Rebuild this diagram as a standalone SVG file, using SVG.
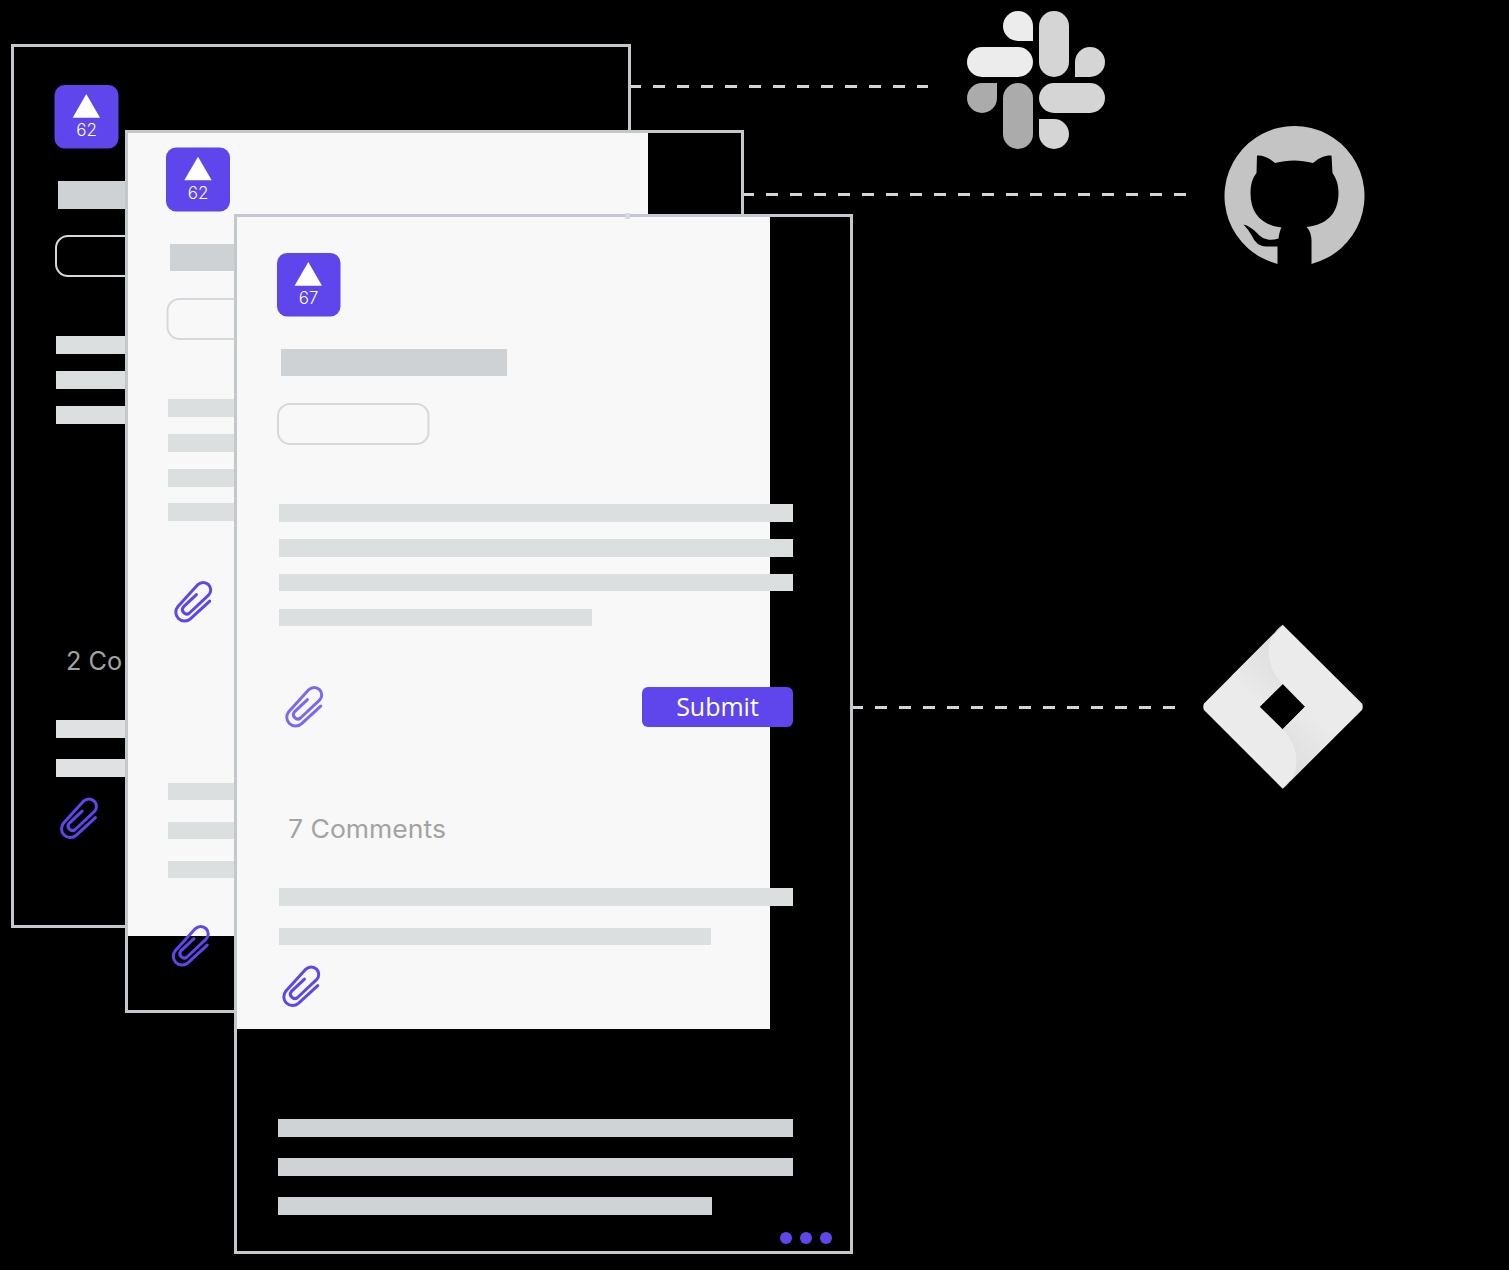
<svg xmlns="http://www.w3.org/2000/svg" xmlns:xlink="http://www.w3.org/1999/xlink" width="1509" height="1270" viewBox="0 0 1509 1270">
<style>
.frame{fill:none;stroke:#c3c8ca;stroke-width:3}
.paper{fill:#f8f8f8}
.badge{fill:#5f45ec}
.tri{fill:#fff}
.num{font-family:"Inter","Liberation Sans",sans-serif;font-size:17px;font-weight:300;fill:#fff;text-anchor:middle}
.title{fill:#cfd2d4}
.pill{fill:none;stroke:#d6d9db;stroke-width:2}
.line{fill:#dcdfe0}
.line2{fill:#e0e1e3}
.low{fill:#cfd3d5}
.cmt{font-family:"Inter","Liberation Sans",sans-serif;font-size:25px;fill:#a3a3a3}
.dash{fill:none;stroke:#d2d5d8;stroke-width:3;stroke-dasharray:12 12}
.clipw{fill:none;stroke:#5f45ec;stroke-width:3.200;stroke-linecap:round}
.dot{fill:#5f45ec}
</style>
<defs>
<path id="clip" d="M18 -1L-2.8 18.2A9.5 9.5 0 0 1 -16.2 4.8L5.3 -18.7A8 8 0 0 1 16.7 -7.3L-3.7 11.8A4.7 4.7 0 0 1 -10.3 5.2L3.7 -8"/>
<linearGradient id="shadeA" gradientUnits="userSpaceOnUse" x1="1275" y1="652" x2="1238" y2="689"><stop offset="0" stop-color="#dfdfdf"/><stop offset="1" stop-color="#ebebeb"/></linearGradient>
<linearGradient id="shadeB" gradientUnits="userSpaceOnUse" x1="1290" y1="761" x2="1327" y2="724"><stop offset="0" stop-color="#dfdfdf"/><stop offset="1" stop-color="#ebebeb"/></linearGradient>
</defs>
<rect width="1509" height="1270" fill="#000"/>

<g id="connectors">
<path class="dash" d="M629 86.500H928"/>
<path class="dash" d="M742 194.500H1187"/>
<path class="dash" d="M851 707.500H1175"/>
</g>

<g id="card-back">
<rect class="frame" x="12.500" y="45.500" width="617" height="881"/>
<rect class="badge" x="54.500" y="85" width="64" height="63.500" rx="10"/>
<path class="tri" d="M86.300 94L100 117.700H72.700Z"/>
<text class="num" x="86.500" y="135.500">62</text>
<rect class="title" x="58" y="181" width="70" height="28"/>
<rect class="pill" x="56" y="236" width="100" height="40" rx="12"/>
<rect class="line" x="56" y="336" width="72" height="18"/>
<rect class="line" x="56" y="371" width="72" height="18"/>
<rect class="line" x="56" y="406" width="72" height="18"/>
<text class="cmt" x="66" y="670" textLength="56" lengthAdjust="spacingAndGlyphs">2 Co</text>
<rect class="line2" x="56" y="720" width="72" height="18"/>
<rect class="line2" x="56" y="759" width="72" height="18"/>
<use href="#clip" class="clipw" transform="translate(78.700 818.500) scale(.93)"/>
</g>

<g id="card-middle">
<rect class="paper" x="127" y="132" width="521" height="804"/>
<rect class="frame" x="126.500" y="131.500" width="616" height="880"/>
<rect class="badge" x="166" y="147.500" width="64" height="64" rx="10"/>
<path class="tri" d="M198 156.700L211.700 180.300H184.300Z"/>
<text class="num" x="198" y="198.500">62</text>
<rect class="title" x="170" y="244" width="70" height="27"/>
<rect class="pill" x="167.500" y="299" width="100" height="40" rx="12"/>
<rect class="line" x="168" y="399" width="72" height="18"/>
<rect class="line" x="168" y="434" width="72" height="18"/>
<rect class="line" x="168" y="469" width="72" height="18"/>
<rect class="line" x="168" y="503" width="72" height="18"/>
<use href="#clip" class="clipw" transform="translate(193 602) scale(.93)"/>
<rect class="line" x="168" y="783" width="72" height="17"/>
<rect class="line" x="168" y="822" width="72" height="17"/>
<rect class="line" x="168" y="861" width="72" height="17"/>
<use href="#clip" class="clipw" transform="translate(190.500 946) scale(.93)"/>
</g>

<g id="card-front">
<rect class="paper" x="237" y="217" width="533" height="812"/>
<rect class="frame" x="235.500" y="215.500" width="616" height="1037"/>
<rect x="625" y="213" width="5" height="6" fill="#d8dbdb"/>
<rect class="badge" x="277" y="253" width="63.500" height="63.500" rx="10"/>
<path class="tri" d="M308.300 262L322 285.700H294.600Z"/>
<text class="num" x="308.500" y="303.500">67</text>
<rect class="title" x="281" y="349" width="226" height="27"/>
<rect class="pill" x="278" y="404" width="150.500" height="40" rx="12"/>
<rect class="line" x="279" y="504" width="514" height="18"/>
<rect class="line" x="279" y="539" width="514" height="18"/>
<rect class="line" x="279" y="574" width="514" height="17"/>
<rect class="line" x="279" y="609" width="313" height="17"/>
<use href="#clip" transform="translate(304 707) scale(.93)" style="fill:none;stroke:#7c68ee;stroke-width:3.200;stroke-linecap:round"/>
<g id="submit">
<rect class="badge" x="642" y="687" width="151" height="40" rx="6"/>
<text x="717.500" y="716" text-anchor="middle" style="font-family:'Open Sans','Liberation Sans',sans-serif;font-size:25px;fill:#fff">Submit</text>
</g>
<text class="cmt" x="288" y="838" textLength="158" lengthAdjust="spacingAndGlyphs">7 Comments</text>
<rect class="line" x="279" y="888" width="514" height="18"/>
<rect class="line" x="279" y="928" width="432" height="17"/>
<use href="#clip" class="clipw" transform="translate(301 986.500) scale(.93)"/>
<rect class="low" x="278" y="1119" width="515" height="18"/>
<rect class="low" x="278" y="1158" width="515" height="18"/>
<rect class="low" x="278" y="1197" width="434" height="18"/>
<circle class="dot" cx="786" cy="1238" r="6"/>
<circle class="dot" cx="806" cy="1238" r="6"/>
<circle class="dot" cx="826" cy="1238" r="6"/>
</g>

<g id="slack">
<path fill="#ececec" d="M1018 11a15 15 0 0 0 0 30h15V26a15 15 0 0 0-15-15Z"/>
<rect fill="#ececec" x="967" y="47" width="66" height="30" rx="15"/>
<rect fill="#d5d5d5" x="1039" y="11" width="30" height="66" rx="15"/>
<path fill="#d5d5d5" d="M1105 62a15 15 0 0 0-30 0v15h15a15 15 0 0 0 15-15Z"/>
<rect fill="#d5d5d5" x="1039" y="83" width="66" height="30" rx="15"/>
<path fill="#d5d5d5" d="M1054 149a15 15 0 0 0 0-30h-15v15a15 15 0 0 0 15 15Z"/>
<rect fill="#ababab" x="1003" y="83" width="30" height="66" rx="15"/>
<path fill="#ababab" d="M967 98a15 15 0 0 0 30 0V83h-15a15 15 0 0 0-15 15Z"/>
</g>

<g id="github">
<path fill="#c4c4c4" d="M1277.500 263.900A70 70 0 1 1 1311.500 263.900L1311.500 241Q1311.500 232 1306.500 227C1326 225 1338.500 214 1338.500 193C1338.500 184 1336 178 1332.500 173L1331.500 155.500C1326 155 1320 157 1313 163C1300 159.500 1288 159.500 1275 163C1268 157 1262 155 1257 155.500L1256.500 173C1252.500 178 1250.500 184 1250.500 193C1250.500 214 1262 225 1281.500 227.500Q1279.500 231 1278.500 238.500C1270 241 1263 240 1257 233Q1250 226 1243.500 224.500Q1248 229 1252 236Q1256 246 1266 246.500L1277.500 246.500Z"/>
</g>

<g id="jira">
<path fill="#ebebeb" fill-rule="evenodd" d="M1282.700 624.700L1362 703.500Q1363.500 706.700 1362 710L1282.700 788.700L1204 710Q1202.500 706.700 1204 703.500ZM1282.700 684L1259.700 706.700L1282.700 729.300L1305 706.700Z"/>
<path fill="url(#shadeA)" d="M1282.700 624.700C1266 636 1262 662 1282.700 684L1259.700 706.700L1231.500 675.900Z"/>
<path fill="url(#shadeB)" d="M1282.700 788.700C1299 777 1303 751 1282.700 729.300L1305 706.700L1333.900 737.500Z"/>
</g>
</svg>
